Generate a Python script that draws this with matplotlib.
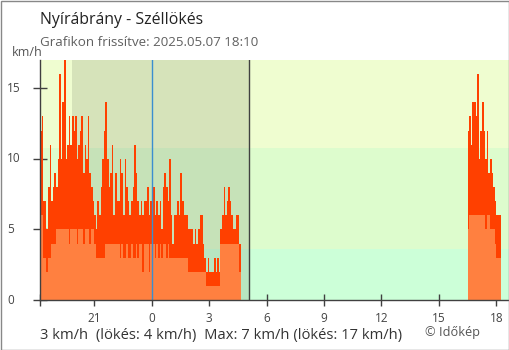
import numpy as np
import matplotlib
matplotlib.use("Agg")
import matplotlib.pyplot as plt

plt.rcParams['font.family'] = ['Open Sans', 'DejaVu Sans']

# ---- data (km/h), 5-minute samples ----
# segment 1: 18:10 (previous day) -> 04:35
seg1_start = -5 - 50/60
gust1 = [12, 13, 7, 7, 5, 8, 11, 7, 8, 9, 8, 10,
         16, 10, 14, 17, 10, 11, 13, 11, 13, 12, 13, 10,
         11, 12, 13, 9, 11, 10, 13, 9, 8, 7, 6, 5,
         7, 6, 8, 10, 12, 14, 10, 8, 9, 11, 6, 9,
         7, 7, 10, 9, 6, 10, 8, 7, 6, 7, 8, 11,
         9, 7, 6, 7, 6, 7, 7, 8, 6, 7, 7, 8,
         6, 7, 6, 7, 5, 8, 9, 8, 7, 10, 6, 4,
         6, 6, 7, 6, 9, 7, 6, 6, 6, 5, 5, 5,
         4, 5, 4, 5, 6, 6, 4, 3, 2, 3, 2, 2,
         2, 3, 2, 3, 2, 5, 6, 8, 6, 7, 8, 7,
         6, 5, 5, 6, 6, 4]
avg1 = [6, 6, 3, 3, 2, 3, 3, 4, 4, 4, 5, 5,
        5, 5, 5, 5, 5, 5, 4, 5, 5, 5, 5, 4,
        5, 5, 5, 4, 5, 5, 5, 4, 5, 5, 4, 3,
        3, 3, 3, 3, 3, 4, 4, 4, 4, 4, 4, 4,
        4, 4, 3, 4, 3, 3, 4, 3, 3, 4, 3, 3,
        4, 3, 4, 4, 2, 4, 4, 4, 2, 4, 4, 4,
        3, 4, 3, 4, 3, 4, 4, 3, 4, 3, 3, 3,
        3, 3, 3, 3, 3, 3, 3, 3, 3, 2, 2, 2,
        2, 2, 2, 2, 2, 2, 2, 2, 1, 1, 1, 1,
        1, 1, 1, 1, 1, 4, 4, 4, 4, 4, 4, 4,
        4, 4, 4, 4, 4, 2]
# segment 2: 16:30 -> 18:10
seg2_start = 16.5
gust2 = [12, 13, 11, 14, 14, 13, 16, 10, 12, 14, 12, 10,
         12, 9, 10, 9, 8, 7, 6, 6, 6]
avg2 = [5, 6, 6, 6, 6, 6, 6, 6, 6, 6, 6, 5,
        6, 6, 5, 5, 5, 4, 3, 3, 3]

step = 5 / 60
band_limits = [0, 3.6, 10.8, 17]
band_colors = ['#ccffd8', '#ddfccd', '#effdd0']
night = (-4.18, 5.07)

tick_pos = [-5 - 50/60, -3, 0, 3, 6, 9, 12, 15, 18]
tick_lab = ['', '21', '0', '3', '6', '9', '12', '15', '18']
ytick_pos = [0, 5, 10, 15]
ytick_lab = ['0', '5', '10', '15']

title = 'Nyírábrány - Széllökés'
subtitle = 'Grafikon frissítve: 2025.05.07 18:10'
footer = '3 km/h  (lökés: 4 km/h)  Max: 7 km/h (lökés: 17 km/h)'
credit = '© Időkép'

W, H = 510, 350
fig = plt.figure(figsize=(W/100, H/100), dpi=100)
ax = fig.add_axes([40/W, (H-300)/H, (509-40)/W, (300-60)/H])

for lo, hi, c in zip(band_limits[:-1], band_limits[1:], band_colors):
    ax.axhspan(lo, hi, color=c, lw=0, zorder=0)
ax.axvspan(night[0], night[1], color='black', alpha=0.1, lw=0, zorder=0.5)


def draw(start, gust, avg):
    n = len(gust)
    t = start + np.arange(n + 1) * step
    g = np.append(gust, gust[-1])
    a = np.append(avg, avg[-1])
    ax.fill_between(t, 0, g, step='post', color='#ff4000', lw=0, zorder=2)
    ax.fill_between(t, 0, a, step='post', color='#ff8040', lw=0, zorder=2.5)


draw(seg1_start, gust1, avg1)
draw(seg2_start, gust2, avg2)

ax.axvline(0, color='#3a8ed0', lw=1, zorder=3)
ax.axvline(night[1], color='#404040', lw=1, zorder=3)

ax.set_xlim(-5 - 50/60, 18.66)
ax.set_ylim(0, 17)
ax.set_xticks(tick_pos)
ax.set_xticklabels(tick_lab)
ax.set_yticks(ytick_pos)
ax.set_yticklabels([])
for s in ['top', 'right']:
    ax.spines[s].set_visible(False)
for s in ['left', 'bottom']:
    ax.spines[s].set_color('#404040')
    ax.spines[s].set_linewidth(1)
    ax.spines[s].set_zorder(4)
ax.tick_params(axis='x', direction='inout', length=9, width=1, color='#404040',
               labelsize=8.5, labelcolor='#444444', pad=4)
ax.tick_params(axis='y', direction='inout', length=10, width=1, color='#404040')
ax.get_xticklines()[4].set_color('#3a8ed0')
ax.get_xticklines()[5].set_color('#3a8ed0')

# y tick labels, left-aligned like the reference
blend = matplotlib.transforms.blended_transform_factory(fig.transFigure, ax.transData)
for v, s in zip(ytick_pos, ytick_lab):
    ax.text(7 / W, v, s, transform=blend, ha='left', va='center', fontsize=8.5,
            color='#444444')


def ftext(x, y, s, **kw):
    fig.text(x / W, 1 - y / H, s, **kw)


ftext(40, 24, title, fontsize=11.4, color='#222222', va='baseline')
ftext(40, 45.5, subtitle, fontsize=9.6, color='#606060', va='baseline')
ftext(12, 55.5, 'km/h', fontsize=9, color='#555555', va='baseline')
ftext(40, 338.5, footer, fontsize=10.6, color='#333333', va='baseline')
ftext(425, 336, credit, fontsize=9.2, color='#555555', va='baseline')

fig.add_artist(plt.Rectangle((0.5/W, 0.5/H), (W-1)/W, (H-1)/H, transform=fig.transFigure,
                             fill=False, edgecolor='#888888', lw=1))

fig.savefig('out.png', dpi=100)
